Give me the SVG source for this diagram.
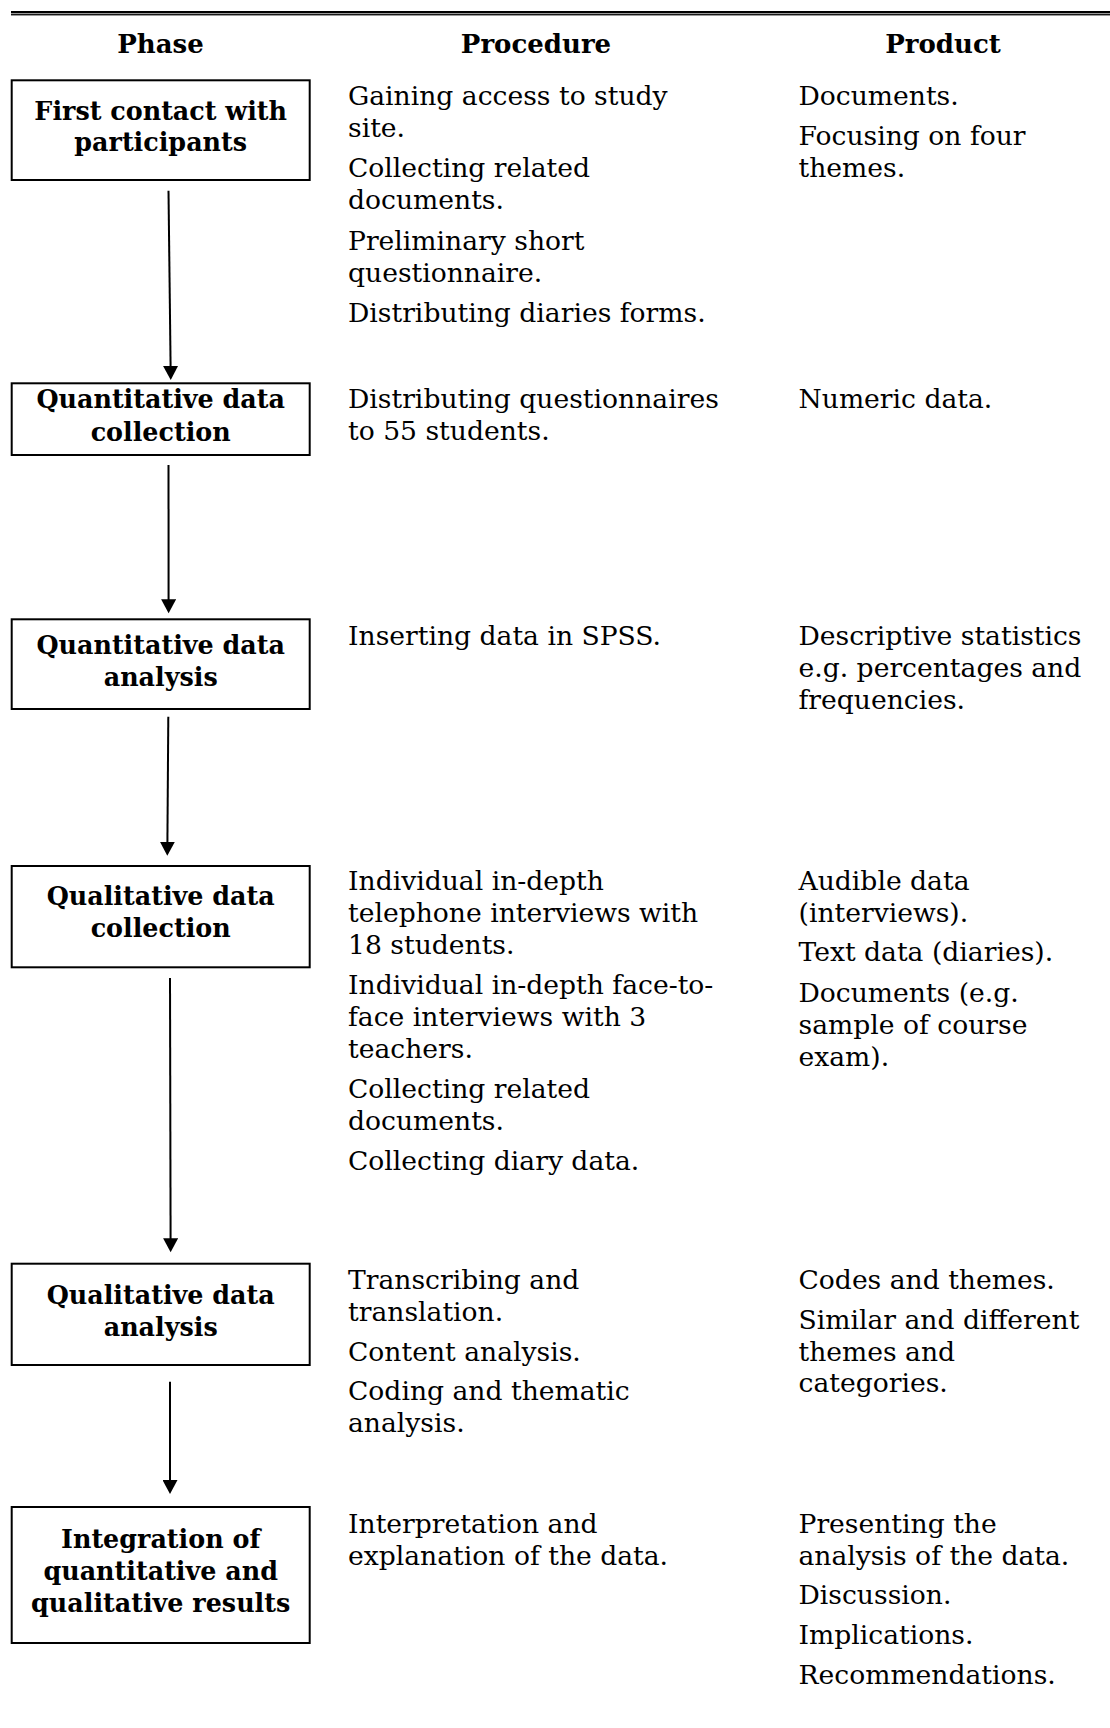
<svg xmlns="http://www.w3.org/2000/svg" width="1110" height="1728" viewBox="0 0 1110 1728">
<style>
.hd{font-family:"DejaVu Serif","Liberation Serif",serif;font-weight:bold;font-size:26px;fill:#000;text-anchor:middle}
.nt{font-family:"DejaVu Serif","Liberation Serif",serif;font-weight:bold;font-size:25.4px;fill:#000;text-anchor:middle}
.bx{fill:#fff;stroke:#000;stroke-width:2}
.tx{font-family:"DejaVu Serif","Liberation Serif",serif;font-size:26.6px;fill:#000}
.cn{stroke:#000;stroke-width:2;fill:none;marker-end:url(#ah)}
</style>
<defs>
<marker id="ah" markerUnits="userSpaceOnUse" markerWidth="15" markerHeight="15" refX="1" refY="7.5" orient="auto">
<path d="M0,0 L14,7.5 L0,15 z" fill="#000"/>
</marker>
</defs>
<rect width="1110" height="1728" fill="#fff"/>
<g id="rule">
<rect x="11" y="11" width="1099" height="2.4" fill="#000"/>
<rect x="11" y="14.1" width="1099" height="1.3" fill="#000"/>
</g>
<g id="headers">
<text class="hd" x="160.5" y="53">Phase</text>
<text class="hd" x="536" y="53">Procedure</text>
<text class="hd" x="943" y="53">Product</text>
</g>
<g id="connectors">
<line class="cn" x1="168.5" y1="190.7" x2="170.6" y2="367"/>
<line class="cn" x1="168.5" y1="465" x2="168.6" y2="600.3"/>
<line class="cn" x1="168.3" y1="716.7" x2="167.4" y2="842.7"/>
<line class="cn" x1="170" y1="978" x2="170.6" y2="1239.3"/>
<line class="cn" x1="170" y1="1381.7" x2="170" y2="1481"/>
</g>
<g id="node1">
<rect class="bx" x="11.7" y="80.3" width="298" height="99.7"/>
<text class="nt" x="160.7" y="119.5">First contact with</text>
<text class="nt" x="160.7" y="151">participants</text>
</g>
<g id="node2">
<rect class="bx" x="11.7" y="383.3" width="298" height="71.7"/>
<text class="nt" x="160.7" y="408.3">Quantitative data</text>
<text class="nt" x="160.7" y="440.7">collection</text>
</g>
<g id="node3">
<rect class="bx" x="11.7" y="619.3" width="298" height="89.7"/>
<text class="nt" x="160.7" y="654">Quantitative data</text>
<text class="nt" x="160.7" y="686">analysis</text>
</g>
<g id="node4">
<rect class="bx" x="11.7" y="866" width="298" height="101.3"/>
<text class="nt" x="160.7" y="905">Qualitative data</text>
<text class="nt" x="160.7" y="937.3">collection</text>
</g>
<g id="node5">
<rect class="bx" x="11.7" y="1263.7" width="298" height="101.3"/>
<text class="nt" x="160.7" y="1304">Qualitative data</text>
<text class="nt" x="160.7" y="1335.7">analysis</text>
</g>
<g id="node6">
<rect class="bx" x="11.7" y="1507" width="298" height="136"/>
<text class="nt" x="160.7" y="1548.3">Integration of</text>
<text class="nt" x="160.7" y="1580">quantitative and</text>
<text class="nt" x="160.7" y="1612.3">qualitative results</text>
</g>
<g id="procedure">
<text class="tx" x="348" y="105">Gaining access to study</text>
<text class="tx" x="348" y="137">site.</text>
<text class="tx" x="348" y="177">Collecting related</text>
<text class="tx" x="348" y="209">documents.</text>
<text class="tx" x="348" y="249.5">Preliminary short</text>
<text class="tx" x="348" y="281.5">questionnaire.</text>
<text class="tx" x="348" y="321.5">Distributing diaries forms.</text>
<text class="tx" x="348" y="408.3">Distributing questionnaires</text>
<text class="tx" x="348" y="440.3">to 55 students.</text>
<text class="tx" x="348" y="645">Inserting data in SPSS.</text>
<text class="tx" x="348" y="890">Individual in-depth</text>
<text class="tx" x="348" y="922">telephone interviews with</text>
<text class="tx" x="348" y="954">18 students.</text>
<text class="tx" x="348" y="994">Individual in-depth face-to-</text>
<text class="tx" x="348" y="1026">face interviews with 3</text>
<text class="tx" x="348" y="1058">teachers.</text>
<text class="tx" x="348" y="1098">Collecting related</text>
<text class="tx" x="348" y="1130">documents.</text>
<text class="tx" x="348" y="1170">Collecting diary data.</text>
<text class="tx" x="348" y="1289.3">Transcribing and</text>
<text class="tx" x="348" y="1321.3">translation.</text>
<text class="tx" x="348" y="1360.5">Content analysis.</text>
<text class="tx" x="348" y="1400">Coding and thematic</text>
<text class="tx" x="348" y="1432">analysis.</text>
<text class="tx" x="348" y="1532.7">Interpretation and</text>
<text class="tx" x="348" y="1564.5">explanation of the data.</text>
</g>
<g id="product">
<text class="tx" x="798.5" y="105">Documents.</text>
<text class="tx" x="798.5" y="145">Focusing on four</text>
<text class="tx" x="798.5" y="177">themes.</text>
<text class="tx" x="798.5" y="408.3">Numeric data.</text>
<text class="tx" x="798.5" y="645">Descriptive statistics</text>
<text class="tx" x="798.5" y="677">e.g. percentages and</text>
<text class="tx" x="798.5" y="709">frequencies.</text>
<text class="tx" x="798.5" y="890">Audible data</text>
<text class="tx" x="798.5" y="922">(interviews).</text>
<text class="tx" x="798.5" y="961">Text data (diaries).</text>
<text class="tx" x="798.5" y="1001.5">Documents (e.g.</text>
<text class="tx" x="798.5" y="1033.5">sample of course</text>
<text class="tx" x="798.5" y="1065.5">exam).</text>
<text class="tx" x="798.5" y="1289.3">Codes and themes.</text>
<text class="tx" x="798.5" y="1328.5">Similar and different</text>
<text class="tx" x="798.5" y="1360.5">themes and</text>
<text class="tx" x="798.5" y="1392">categories.</text>
<text class="tx" x="798.5" y="1532.7">Presenting the</text>
<text class="tx" x="798.5" y="1564.5">analysis of the data.</text>
<text class="tx" x="798.5" y="1603.5">Discussion.</text>
<text class="tx" x="798.5" y="1643.5">Implications.</text>
<text class="tx" x="798.5" y="1683.5">Recommendations.</text>
</g>
</svg>
